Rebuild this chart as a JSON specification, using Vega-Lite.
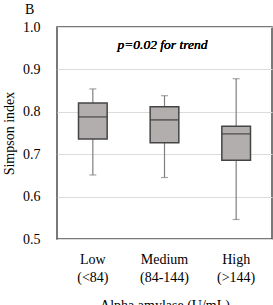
{
  "$schema": "https://vega.github.io/schema/vega-lite/v6.json",
  "width": 215,
  "height": 212,
  "autosize": {"type": "none"},
  "padding": {"left": 57, "top": 27, "right": 1, "bottom": 66},
  "background": "white",
  "title": {
    "text": "B",
    "anchor": "start",
    "frame": "group",
    "dx": -32,
    "offset": 3,
    "font": "Liberation Serif",
    "fontSize": 14,
    "fontWeight": "normal",
    "color": "#000000"
  },
  "config": {
    "font": "Liberation Serif",
    "view": {"stroke": "#4d4d4d", "strokeWidth": 1.5},
    "text": {"font": "Liberation Serif", "fontWeight": "normal"},
    "axis": {
      "labelFont": "Liberation Serif",
      "titleFont": "Liberation Serif",
      "labelFontSize": 14,
      "titleFontSize": 14,
      "labelColor": "#000000",
      "titleColor": "#000000",
      "titleFontWeight": "normal",
      "domain": false,
      "ticks": false
    }
  },
  "data": {
    "values": [
      {"group": "Low|(<84)", "lower": 0.651, "q1": 0.736, "median": 0.788, "q3": 0.821, "upper": 0.854},
      {"group": "Medium|(84-144)", "lower": 0.645, "q1": 0.727, "median": 0.781, "q3": 0.812, "upper": 0.838},
      {"group": "High|(>144)", "lower": 0.546, "q1": 0.686, "median": 0.748, "q3": 0.766, "upper": 0.878}
    ]
  },
  "encoding": {
    "x": {
      "field": "group",
      "type": "nominal",
      "sort": ["Low|(<84)", "Medium|(84-144)", "High|(>144)"],
      "scale": {"paddingInner": 0.6, "paddingOuter": 0.3},
      "axis": {
        "title": "Alpha amylase (U/mL)",
        "labelAngle": 0,
        "labelExpr": "split(datum.value, '|')",
        "labelPadding": 13,
        "labelLineHeight": 18.5,
        "titlePadding": 14,
        "grid": false
      }
    }
  },
  "layer": [
    {
      "mark": {"type": "rule", "color": "#7f7f7f", "strokeWidth": 1.2},
      "encoding": {
        "y": {
          "field": "lower",
          "type": "quantitative",
          "scale": {"domain": [0.5, 1.0], "nice": false, "zero": false},
          "axis": {
            "title": "Simpson index",
            "values": [0.5, 0.6, 0.7, 0.8, 0.9, 1.0],
            "format": ".1f",
            "labelPadding": 17,
            "titlePadding": 6,
            "grid": true,
            "gridColor": "#dcdcdc",
            "gridWidth": 1
          }
        },
        "y2": {"field": "q1"}
      }
    },
    {
      "mark": {"type": "rule", "color": "#7f7f7f", "strokeWidth": 1.2},
      "encoding": {
        "y": {"field": "q3", "type": "quantitative"},
        "y2": {"field": "upper"}
      }
    },
    {
      "mark": {"type": "tick", "color": "#7f7f7f", "size": 7, "thickness": 1.2},
      "encoding": {"y": {"field": "lower", "type": "quantitative"}}
    },
    {
      "mark": {"type": "tick", "color": "#7f7f7f", "size": 7, "thickness": 1.2},
      "encoding": {"y": {"field": "upper", "type": "quantitative"}}
    },
    {
      "mark": {"type": "bar", "fill": "#b3aeae", "stroke": "#454545", "strokeWidth": 1.5},
      "encoding": {
        "y": {"field": "q1", "type": "quantitative"},
        "y2": {"field": "q3"}
      }
    },
    {
      "mark": {"type": "tick", "color": "#404040", "size": 28.7, "thickness": 1.6},
      "encoding": {"y": {"field": "median", "type": "quantitative"}}
    },
    {
      "mark": {
        "type": "text",
        "text": "p=0.02 for trend",
        "font": "Liberation Serif",
        "fontStyle": "italic",
        "fontWeight": "normal",
        "fontSize": 13.5,
        "color": "#000000",
        "align": "center",
        "baseline": "middle",
        "dx": -2
      },
      "encoding": {
        "x": {"datum": "Medium|(84-144)"},
        "y": {"datum": 0.958}
      }
    }
  ]
}
